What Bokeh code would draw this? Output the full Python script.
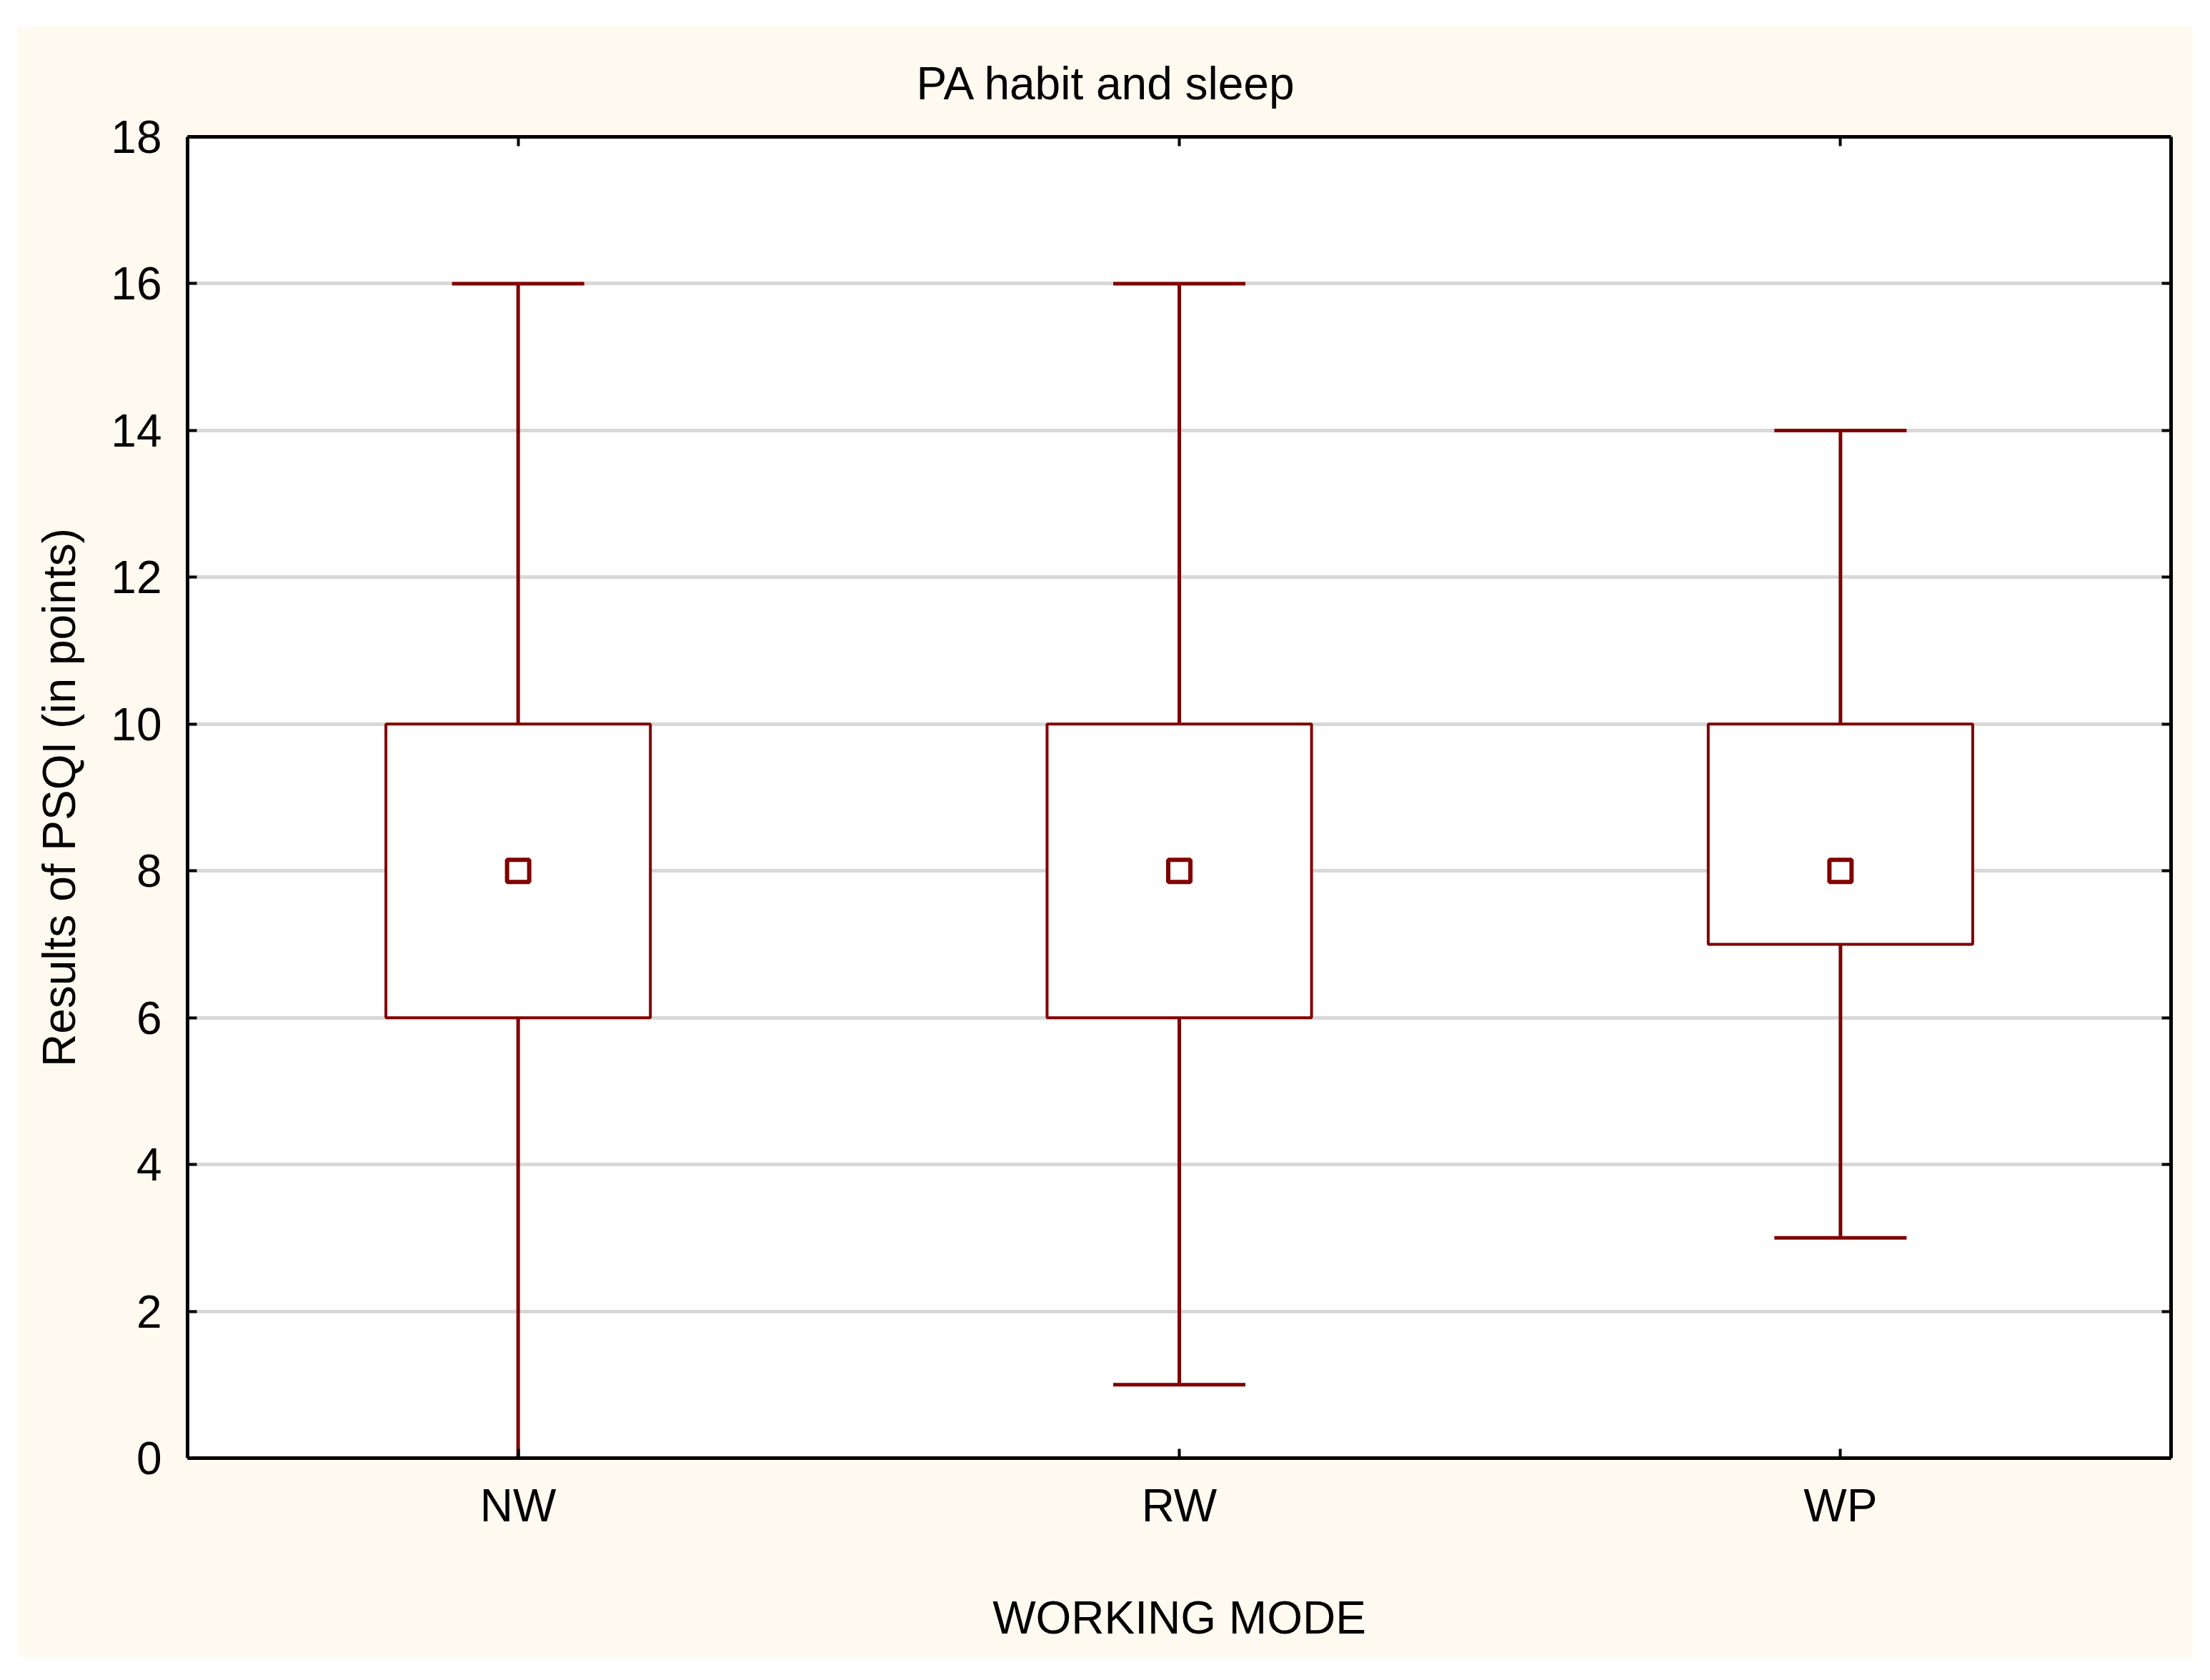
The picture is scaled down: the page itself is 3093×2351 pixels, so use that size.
from bokeh.plotting import figure
from bokeh.models import ColumnDataSource, LinearAxis, CategoricalAxis, FixedTicker, Range1d
from bokeh.transform import dodge
from bokeh.embed import file_html
from bokeh.resources import INLINE

# ---- data ----
categories = ["NW", "RW", "WP"]
median = [8, 8, 8]
q1 = [6, 6, 7]
q3 = [10, 10, 10]
whisker_low = [0, 1, 3]
whisker_high = [16, 16, 14]
y_ticks = [0, 2, 4, 6, 8, 10, 12, 14, 16, 18]

title_text = "PA habit and sleep"
x_label = "WORKING MODE"
y_label = "Results of PSQI (in points)"

DARK = "#800000"
CREAM = "#FFFAF0"
FONT = "Liberation Sans"
FS = "64px"

src = ColumnDataSource(dict(cat=categories, med=median, q1=q1, q3=q3,
                            lo=whisker_low, hi=whisker_high))

p = figure(x_range=categories, y_range=Range1d(0, 18),
           width=3046, height=2283,
           output_backend="svg", toolbar_location=None,
           min_border_left=239, min_border_right=31,
           min_border_top=155, min_border_bottom=279)
p.margin = (36, 0, 0, 23)

p.background_fill_color = "white"
p.border_fill_color = CREAM
p.outline_line_color = None

# title
p.title.text = title_text
p.title.align = "left"
p.title.offset = 1020
p.title.text_font = FONT
p.title.text_font_size = FS
p.title.text_font_style = "normal"
p.title.text_color = "black"
p.title.vertical_align = "top"
p.title.standoff = 74

# grid
p.xgrid.grid_line_color = None
p.ygrid.ticker = FixedTicker(ticks=y_ticks)
p.ygrid.grid_line_color = "#D8D8D8"
p.ygrid.grid_line_width = 5

def style_axis(ax, labels=True):
    ax.axis_line_color = "black"
    ax.axis_line_width = 5
    ax.major_tick_in = 13
    ax.major_tick_out = 0
    ax.major_tick_line_width = 4
    ax.major_tick_line_color = "black"
    ax.minor_tick_line_color = None
    ax.major_label_text_font = FONT
    ax.major_label_text_font_size = FS
    ax.major_label_text_color = "black" if labels else None
    ax.axis_label_text_font = FONT
    ax.axis_label_text_font_size = FS
    ax.axis_label_text_font_style = "normal"
    ax.axis_label_text_color = "black"

# left axis
yax = p.yaxis[0]
yax.ticker = FixedTicker(ticks=y_ticks)
style_axis(yax)
yax.major_label_standoff = 36
yax.axis_label = y_label
yax.axis_label_standoff = 33

# bottom axis
xax = p.xaxis[0]
style_axis(xax)
xax.major_label_standoff = 30
xax.axis_label = x_label
xax.axis_label_standoff = 82

# right and top mirror axes (ticks only)
rax = LinearAxis(ticker=FixedTicker(ticks=y_ticks))
style_axis(rax, labels=False)
p.add_layout(rax, "right")
tax = CategoricalAxis()
style_axis(tax, labels=False)
p.add_layout(tax, "above")

# whiskers
p.segment(x0="cat", y0="q3", x1="cat", y1="hi", source=src, line_color=DARK, line_width=5)
p.segment(x0="cat", y0="lo", x1="cat", y1="q1", source=src, line_color=DARK, line_width=5)
p.segment(x0=dodge("cat", -0.1, range=p.x_range), y0="hi",
          x1=dodge("cat", 0.1, range=p.x_range), y1="hi",
          source=src, line_color=DARK, line_width=5)
p.segment(x0=dodge("cat", -0.1, range=p.x_range), y0="lo",
          x1=dodge("cat", 0.1, range=p.x_range), y1="lo",
          source=src, line_color=DARK, line_width=5)

# boxes
p.vbar(x="cat", width=0.4, bottom="q1", top="q3", source=src,
       fill_color="white", line_color=DARK, line_width=4)

# median markers
p.scatter(x="cat", y="med", source=src, marker="square", size=31,
          fill_color="white", line_color=DARK, line_width=6)

open("out.html", "w").write(file_html(p, INLINE))
